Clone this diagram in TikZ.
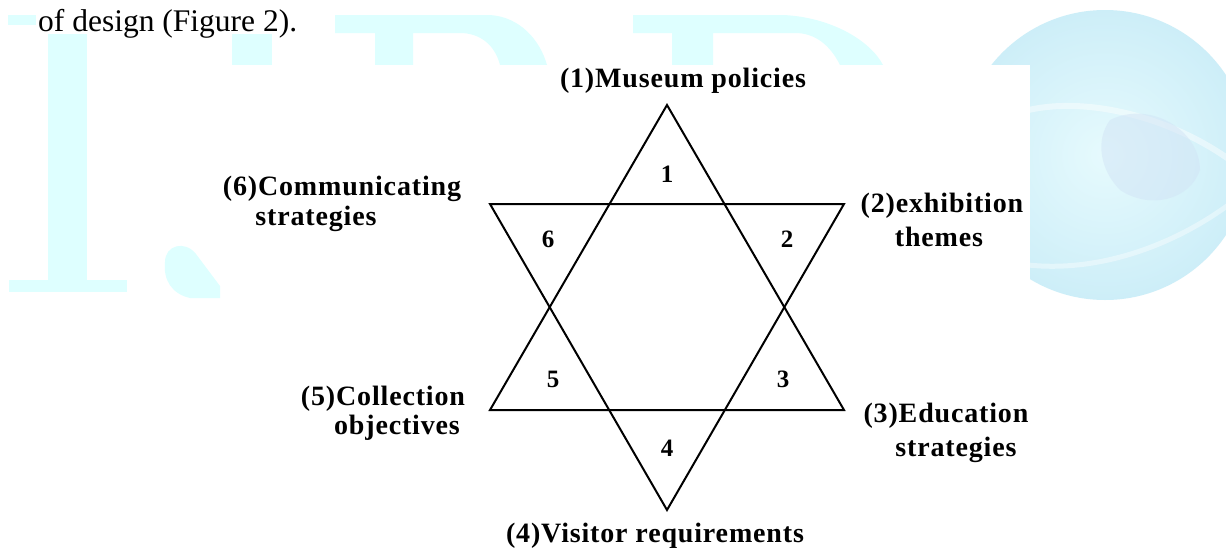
\documentclass[tikz,border=0pt]{standalone}
\usepackage{fontspec}
\setmainfont{Liberation Serif}
\newfontfamily\lblfont{Liberation Serif}[LetterSpace=3]
\definecolor{wmcyan}{RGB}{222,255,255}
\definecolor{globeout}{RGB}{205,238,248}
\definecolor{globein}{RGB}{230,250,253}
\definecolor{globepatch}{RGB}{210,228,246}
\tikzset{
  lbl/.style={font=\lblfont\bfseries\fontsize{28}{32}\selectfont, anchor=base, inner sep=0pt},
  num/.style={font=\lblfont\bfseries\fontsize{25}{28}\selectfont, inner sep=0pt},
  edge/.style={draw=black, line width=2pt, line join=miter},
  wm/.style={fill=wmcyan, draw=none}
}
\begin{document}
\begin{tikzpicture}[x=1pt,y=-1pt]
\useasboundingbox (0,0) rectangle (1226,549);
\fill[white] (0,0) rectangle (1226,549);
% ---- watermark ----
\shade[inner color=globein, outer color=globeout] (1105,155) circle (145);
\draw[white, opacity=0.45, line width=6pt] (1000,120) .. controls (1060,90) and (1160,110) .. (1230,160);
\draw[white, opacity=0.4, line width=5pt] (1000,260) .. controls (1080,280) and (1170,250) .. (1235,200);
\fill[globepatch, opacity=0.5] (1110,120) .. controls (1150,100) and (1200,130) .. (1200,170) .. controls (1190,200) and (1150,210) .. (1120,190) .. controls (1100,170) and (1095,140) .. cycle;
\fill[wm] (8,15) rectangle (127,25);
\fill[wm] (48,25) rectangle (87,283);
\fill[wm] (9,280) rectangle (127,292);
\fill[wm] (165,262) .. controls (165,245) and (185,240) .. (196,254) -- (220,286) -- (220,298) -- (190,298) .. controls (172,294) and (163,280) .. cycle;
\fill[wm] (232,15) rectangle (272,65);
\fill[wm] (335,15) -- (490,15) .. controls (520,17) and (540,40) .. (547,65) -- (500,65) .. controls (495,45) and (480,33) .. (460,33) -- (413,33) -- (413,65) -- (375,65) -- (375,33) -- (335,33) -- cycle;
\fill[wm] (633,15) -- (783,15) .. controls (830,17) and (870,40) .. (883,65) -- (840,65) .. controls (830,45) and (815,33) .. (795,33) -- (713,33) -- (713,65) -- (672,65) -- (672,33) -- (633,33) -- cycle;
\fill[white] (226,65) rectangle (1030,549);
\fill[white] (36,0) rectangle (300,34);
\node[font=\fontsize{31.5}{36}\selectfont, anchor=base west, inner sep=0pt] (intro) at (38,31) {of design (Figure 2).};
% ---- star ----
\coordinate (uA) at (667,105);
\coordinate (uB) at (490,410);
\coordinate (uC) at (844,410);
\coordinate (dA) at (490,204);
\coordinate (dB) at (844,204);
\coordinate (dC) at (667,510);
\draw[edge] (uA) -- (uB) -- (uC) -- cycle;
\draw[edge] (dA) -- (dB) -- (dC) -- cycle;
\node[num] (n1) at (667,174) {1};
\node[num] (n6) at (548,239) {6};
\node[num] (n2) at (787,239) {2};
\node[num] (n5) at (553,379) {5};
\node[num] (n3) at (783,379) {3};
\node[num] (n4) at (667,448) {4};
% ---- labels ----
\node[lbl] (l1) at (683,87) {(1)Museum policies};
\node[lbl] (l2a) at (942,212) {(2)exhibition};
\node[lbl] (l2b) at (939,246) {themes};
\node[lbl] (l3a) at (946,422) {(3)Education};
\node[lbl] (l3b) at (956,456) {strategies};
\node[lbl] (l4) at (655,542) {(4)Visitor requirements};
\node[lbl] (l5a) at (383,405) {(5)Collection};
\node[lbl] (l5b) at (397,434) {objectives};
\node[lbl] (l6a) at (342,195) {(6)Communicating};
\node[lbl] (l6b) at (316,225) {strategies};
\end{tikzpicture}
\end{document}
